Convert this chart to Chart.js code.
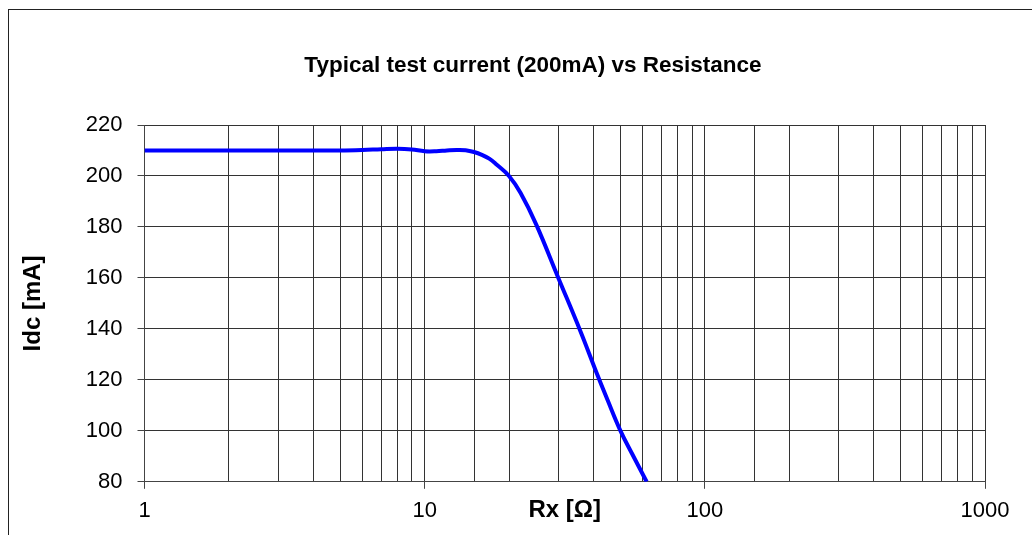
<!DOCTYPE html>
<html>
<head>
<meta charset="utf-8">
<script src="https://cdn.jsdelivr.net/npm/chart.js@4"></script>
<style>
  html, body { margin: 0; padding: 0; background: #fff; }
  #wrap { width: 1032px; height: 535px; }
</style>
</head>
<body>
<div id="wrap"><canvas id="chart" width="1032" height="535"></canvas></div>
<script>
// Rx [Ohm] and Idc [mA]
const resistance = [1, 2, 3, 4, 5, 6, 7, 8, 9, 10, 11, 12, 13, 14, 15, 16, 17, 18, 20, 22, 25, 30, 36, 41, 45, 50, 55, 62];
const current = [210, 210, 210, 210, 210, 210.2, 210.5, 210.7, 210.4, 209.7, 209.7, 210, 210.2, 210.1, 209.4, 208.3, 206.8, 204.6, 200, 193.3, 181, 160, 139, 123, 112, 100, 91, 80];
const xLabels = [1, 10, 100, 1000];
const yMin = 80, yMax = 220, yStep = 20;

const titleText = 'Typical test current (200mA) vs Resistance';
const fontFamily = '"Liberation Sans", Arial, sans-serif';

const frame = {
    id: 'frame',
    afterDraw(chart) {
        const ctx = chart.ctx;
        ctx.save();
        ctx.strokeStyle = '#222';
        ctx.lineWidth = 1;
        ctx.strokeRect(8.5, 9.5, 1100, 1100);
        ctx.fillStyle = '#000';
        ctx.font = 'bold 22.5px ' + fontFamily;
        ctx.textAlign = 'center';
        ctx.textBaseline = 'middle';
        ctx.fillText(titleText, 533, 66);
        ctx.restore();
    }
};

const ctx = document.getElementById('chart').getContext('2d');
new Chart(ctx, {
    type: 'line',
    data: {
        datasets: [{
            data: resistance.map((r, i) => ({ x: r, y: current[i] })),
            borderColor: '#0000ff',
            borderWidth: 4,
            pointRadius: 0,
            tension: 0.4,
            fill: false
        }]
    },
    options: {
        responsive: false,
        animation: false,
        layout: { padding: { left: 8, right: 47, top: 125, bottom: 0 } },
        plugins: {
            legend: { display: false },
            tooltip: { enabled: false },
            title: { display: false }
        },
        scales: {
            x: {
                type: 'logarithmic',
                min: 1,
                max: 1000,
                border: { color: '#444', width: 1 },
                grid: {
                    color: '#333',
                    lineWidth: 1,
                    tickLength: 7,
                    tickColor: c => xLabels.includes(c.tick && c.tick.value) ? '#444' : 'rgba(0,0,0,0)'
                },
                ticks: {
                    autoSkip: false,
                    maxRotation: 0,
                    padding: 9,
                    color: '#000',
                    font: { family: fontFamily, size: 22 },
                    callback: v => xLabels.includes(v) ? String(v) : ''
                },
                title: {
                    display: true,
                    text: 'Rx [Ω]',
                    color: '#000',
                    font: { family: fontFamily, size: 24, weight: 'bold' },
                    padding: { top: -37, bottom: 10 }
                }
            },
            y: {
                min: yMin,
                max: yMax,
                border: { color: '#444', width: 1 },
                grid: { color: '#333', lineWidth: 1, tickLength: 7, tickColor: '#444' },
                ticks: {
                    stepSize: yStep,
                    padding: 15,
                    color: '#000',
                    font: { family: fontFamily, size: 22 }
                },
                title: {
                    display: true,
                    text: 'Idc [mA]',
                    color: '#000',
                    font: { family: fontFamily, size: 24, weight: 'bold' },
                    padding: { top: 11, bottom: 23 }
                }
            }
        }
    },
    plugins: [frame]
});
</script>
</body>
</html>
